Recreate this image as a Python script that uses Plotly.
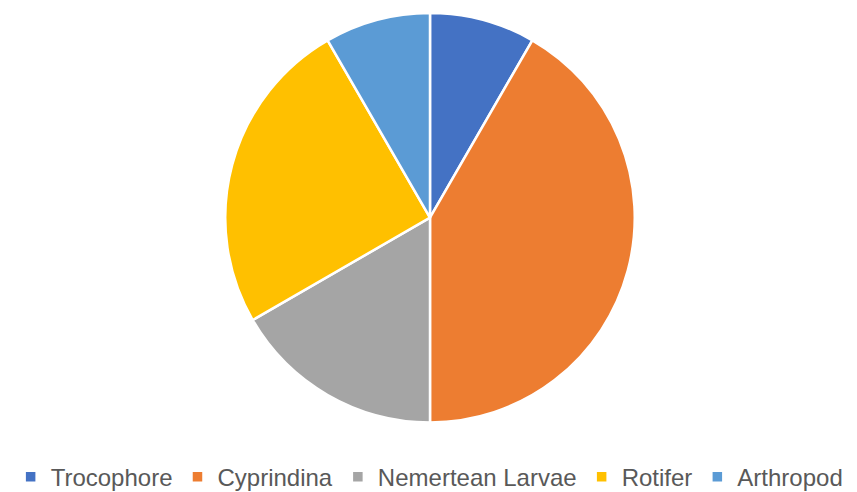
import plotly.graph_objects as go

labels = ["Trocophore", "Cyprindina", "Nemertean Larvae", "Rotifer", "Arthropod"]
values = [1, 5, 2, 3, 1]
colors = ["#4472C4", "#ED7D31", "#A5A5A5", "#FFC000", "#5B9BD5"]

W, H = 857, 492
cx, cy, r = 422, 214, 209

fig = go.Figure(go.Pie(
    labels=labels, values=values, sort=False, direction="clockwise", rotation=0,
    marker=dict(colors=colors, line=dict(color="white", width=2.5)),
    textinfo="none", hoverinfo="label+value+percent",
    domain=dict(x=[(cx - r) / W, (cx + r) / W], y=[(H - cy - r) / H, (H - cy + r) / H]),
))

fig.update_layout(
    width=W, height=H, margin=dict(l=0, r=0, t=0, b=0),
    paper_bgcolor="white", plot_bgcolor="white",
    font=dict(family="Liberation Sans, Arial, sans-serif", size=24, color="#595959"),
    legend=dict(orientation="h", x=0.492, xanchor="center", y=(H - 479) / H, yanchor="middle",
                font=dict(size=24, color="#595959"), itemclick=False, traceorder="normal"),
)

fig.write_html("out.html")
